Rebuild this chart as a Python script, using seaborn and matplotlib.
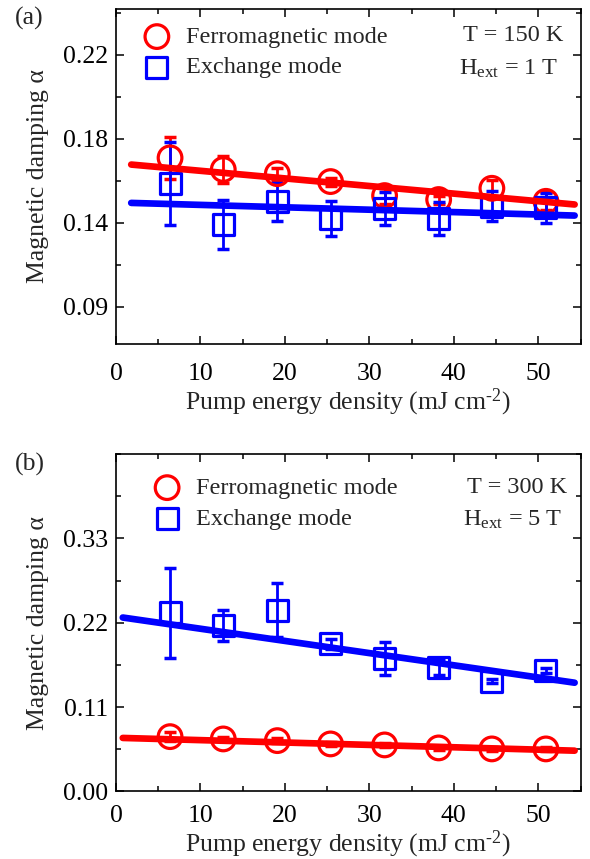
import numpy as np
import pandas as pd
import seaborn as sns
import matplotlib.pyplot as plt
from matplotlib.ticker import MultipleLocator, FixedLocator, FixedFormatter

# pump energy density (mJ cm^-2)
fluence = [6.4, 12.7, 19.1, 25.4, 31.8, 38.2, 44.5, 50.9]

# (a) T = 150 K, H = 1 T
a_fm = [0.1679, 0.1620, 0.1599, 0.1559, 0.1488, 0.1468, 0.1525, 0.1459]
a_fm_err = [0.0106, 0.0067, 0.0030, 0.0020, 0.0040, 0.0020, 0.0040, 0.0045]
a_ex = [0.1549, 0.1342, 0.1456, 0.1371, 0.1423, 0.1372, 0.1434, 0.1426]
a_ex_err = [0.0212, 0.0124, 0.0098, 0.0088, 0.0084, 0.0084, 0.0077, 0.0076]
a_fit_x = [1.8, 54.3]
a_fit_fm = [0.1645, 0.1443]
a_fit_ex = [0.1451, 0.1387]

# (b) T = 300 K, H = 5 T
b_fm = [0.0715, 0.0685, 0.0663, 0.0620, 0.0607, 0.0568, 0.0555, 0.0555]
b_fm_err = [0.0057, 0.0030, 0.0030, 0.0030, 0.0030, 0.0030, 0.0030, 0.0030]
b_ex = [0.2328, 0.2167, 0.2364, 0.1928, 0.1732, 0.1614, 0.1439, 0.1579]
b_ex_err = [0.0589, 0.0203, 0.0353, 0.0065, 0.0213, 0.0100, 0.0030, 0.0035]
b_fit_x = [0.8, 54.3]
b_fit_fm = [0.0698, 0.0532]
b_fit_ex = [0.2268, 0.1418]

# tick positions (a) are evenly spaced, labels as printed on the figure
a_ticks = [0.0925, 0.135, 0.1775, 0.22]
a_labels = ['0.09', '0.14', '0.18', '0.22']
b_ticks = [0.00, 0.11, 0.22, 0.33]
b_labels = ['0.00', '0.11', '0.22', '0.33']

sns.set_theme(style='ticks')
plt.rcParams['font.family'] = ['Liberation Serif', 'DejaVu Serif']
plt.rcParams['mathtext.fontset'] = 'custom'
plt.rcParams['mathtext.rm'] = 'Liberation Serif'
plt.rcParams['mathtext.it'] = 'Liberation Serif:italic'

RED = '#ff0000'
BLUE = '#0000ff'
FS = 18.5
FS_LEG = 17.5

fig = plt.figure(figsize=(5.9, 8.59), dpi=100)
ax1 = fig.add_axes([0.1966, 0.5995, 0.7874, 0.39])
ax2 = fig.add_axes([0.1966, 0.0786, 0.7874, 0.3929])


def draw_panel(ax, fm, fm_err, ex, ex_err, fit_x, fit_fm, fit_ex, leg_xy, xpad):
    ax.errorbar(fluence, fm, yerr=fm_err, fmt='none', ecolor=RED,
                elinewidth=2, capsize=4, capthick=2.5, zorder=2)
    ax.errorbar(fluence, ex, yerr=ex_err, fmt='none', ecolor=BLUE,
                elinewidth=2, capsize=4, capthick=2.5, zorder=2)
    df_fm = pd.DataFrame({'x': fluence, 'y': fm})
    df_ex = pd.DataFrame({'x': fluence, 'y': ex})
    sns.scatterplot(data=df_fm, x='x', y='y', ax=ax, marker='o', s=290,
                    facecolor='none', edgecolor=RED, linewidth=2.3, zorder=3,
                    label='Ferromagnetic mode')
    sns.scatterplot(data=df_ex, x='x', y='y', ax=ax, marker='s', s=230,
                    facecolor='none', edgecolor=BLUE, linewidth=2.3, zorder=3,
                    label='Exchange mode')
    sns.lineplot(x=fit_x, y=fit_fm, ax=ax, color=RED, lw=4.8, zorder=4,
                 legend=False, solid_capstyle='round')
    sns.lineplot(x=fit_x, y=fit_ex, ax=ax, color=BLUE, lw=4.8, zorder=4,
                 legend=False, solid_capstyle='round')
    ax.set_xlim(0, 55)
    ax.xaxis.set_major_locator(MultipleLocator(10))
    ax.xaxis.set_minor_locator(MultipleLocator(5))
    ax.tick_params(which='both', direction='in', top=True, right=True,
                   labelsize=FS, width=1.1, colors='black')
    ax.tick_params(axis='x', pad=xpad)
    ax.tick_params(axis='y', pad=6)
    ax.tick_params(which='major', length=6)
    ax.tick_params(which='minor', length=3.5)
    for s in ax.spines.values():
        s.set_linewidth(1.2)
        s.set_color('black')
    ax.set_xlabel(r'Pump energy density (mJ cm$^{\text{-2}}$)', fontsize=FS,
                  labelpad=1)
    ax.set_ylabel('Magnetic damping α', fontsize=FS, labelpad=10)
    ax.legend(loc='upper left', bbox_to_anchor=leg_xy, frameon=False,
              fontsize=FS_LEG, handletextpad=0.5, labelspacing=0.35,
              handlelength=1.4, borderaxespad=0.2)


draw_panel(ax1, a_fm, a_fm_err, a_ex, a_ex_err, a_fit_x, a_fit_fm, a_fit_ex,
           (0.02, 0.993), 14)
ax1.set_ylim(0.0737, 0.2432)
ax1.yaxis.set_major_locator(FixedLocator(a_ticks))
ax1.yaxis.set_major_formatter(FixedFormatter(a_labels))
ax1.yaxis.set_minor_locator(FixedLocator([t + 0.02125 for t in a_ticks]))
ax1.text(0.962, 0.922, 'T = 150 K', transform=ax1.transAxes, ha='right',
         va='center', fontsize=FS_LEG)
ax1.text(0.952, 0.822, r'H$_{\mathrm{ext}}$ = 1 T', transform=ax1.transAxes,
         ha='right', va='center', fontsize=FS_LEG)

draw_panel(ax2, b_fm, b_fm_err, b_ex, b_ex_err, b_fit_x, b_fit_fm, b_fit_ex,
           (0.042, 0.975), 10)
ax2.set_ylim(0, 0.44)
ax2.yaxis.set_major_locator(FixedLocator(b_ticks))
ax2.yaxis.set_major_formatter(FixedFormatter(b_labels))
ax2.yaxis.set_minor_locator(MultipleLocator(0.055))
ax2.text(0.971, 0.902, 'T = 300 K', transform=ax2.transAxes, ha='right',
         va='center', fontsize=FS_LEG)
ax2.text(0.962, 0.805, r'H$_{\mathrm{ext}}$ = 5 T', transform=ax2.transAxes,
         ha='right', va='center', fontsize=FS_LEG)

fig.text(0.026, 0.979, '(a)', fontsize=FS, va='center')
fig.text(0.026, 0.459, '(b)', fontsize=FS, va='center')

fig.savefig('out.png', dpi=100)
